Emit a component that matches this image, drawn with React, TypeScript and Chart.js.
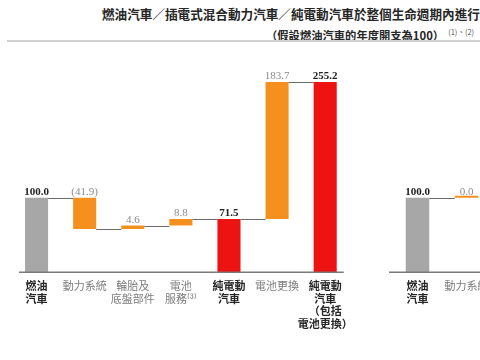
import React, { useEffect, useRef } from "react";
import { Chart, registerables } from "chart.js";

Chart.register(...registerables);

// ---------- data ----------
const leftCategories: string[][] = [
  ["燃油", "汽車"],
  ["動力系統"],
  ["輪胎及", "底盤部件"],
  ["電池", "服務⁽³⁾"],
  ["純電動", "汽車"],
  ["電池更換"],
  ["純電動", "汽車", "（包括", "電池更換）"],
];
const leftValues: number[] = [100, -41.9, 4.6, 8.8, 71.5, 183.7, 255.2];
const leftKinds: string[] = ["base", "delta", "delta", "delta", "ev", "delta", "ev"];

const rightCategories: string[][] = [["燃油", "汽車"], ["動力系統"]];
const rightValues: number[] = [100, 0];
const rightKinds: string[] = ["base", "delta"];

const titleLine1 = "燃油汽車／插電式混合動力汽車／純電動汽車於整個生命週期內進行之年度開支比較";
const titleLine2 = "（假設燃油汽車的年度開支為100）";
const titleNote = "(1)、(2)";

// ---------- styles ----------
const COLORS: Record<string, string> = { base: "#a7a7a7", delta: "#f5901f", ev: "#ee1313" };
const CJK = "'Noto Sans CJK TC', 'Noto Sans', sans-serif";
const NUM = "'Liberation Serif', 'DejaVu Serif', serif";
const BASELINE_Y = 272.3;
const Y_MAX = 300;
const PX_PER_UNIT = 0.746;

function buildRanges(values: number[], kinds: string[]) {
  let run = 0;
  const ranges: number[][] = [];
  const ends: number[] = [];
  values.forEach((v, i) => {
    if (kinds[i] === "delta") {
      ranges.push([run, run + v]);
      run += v;
    } else {
      ranges.push([0, v]);
      run = v;
    }
    ends.push(run);
  });
  return { ranges, ends };
}

function makeDecor(values: number[], kinds: string[], ranges: number[][], ends: number[], insetL: number, insetR: number) {
  return {
    id: "waterfallDecor",
    afterDatasetsDraw(chart: any) {
      const ctx = chart.ctx;
      const meta = chart.getDatasetMeta(0);
      const ys = chart.scales.y;
      const area = chart.chartArea;
      ctx.save();
      // connectors
      ctx.strokeStyle = "#6a6a6a";
      ctx.lineWidth = 1;
      for (let i = 0; i < meta.data.length - 1; i++) {
        const a = meta.data[i];
        const b = meta.data[i + 1];
        const yy = Math.round(ys.getPixelForValue(ends[i])) + 0.5;
        ctx.beginPath();
        ctx.moveTo(a.x + a.width / 2, yy);
        ctx.lineTo(b.x - b.width / 2, yy);
        ctx.stroke();
      }
      // baseline axis
      ctx.strokeStyle = "#7a7a7a";
      ctx.lineWidth = 1.5;
      ctx.beginPath();
      ctx.moveTo(area.left + insetL, area.bottom);
      ctx.lineTo(area.right - insetR, area.bottom);
      ctx.stroke();
      // value labels
      ctx.textAlign = "center";
      ctx.textBaseline = "alphabetic";
      meta.data.forEach((bar: any, i: number) => {
        const v = values[i];
        const isDelta = kinds[i] === "delta";
        const topVal = Math.max(ranges[i][0], ranges[i][1]);
        const yTop = ys.getPixelForValue(topVal);
        const txt = v < 0 ? `(${Math.abs(v).toFixed(1)})` : v.toFixed(1);
        ctx.font = `${isDelta ? "normal" : "bold"} 11px ${NUM}`;
        ctx.fillStyle = isDelta ? "#8c8c8c" : "#222";
        ctx.fillText(txt, bar.x, yTop - 3);
      });
      ctx.restore();
    },
  };
}

type WProps = {
  categories: string[][];
  values: number[];
  kinds: string[];
  width: number;
  left: number;
  padLeft: number;
  padRight: number;
  insetL: number;
  insetR: number;
};

function Waterfall(props: WProps) {
  const ref = useRef<HTMLCanvasElement | null>(null);
  useEffect(() => {
    const { categories, values, kinds, padLeft, padRight, insetL, insetR } = props;
    const { ranges, ends } = buildRanges(values, kinds);
    const chart = new Chart(ref.current as HTMLCanvasElement, {
      type: "bar",
      data: {
        labels: categories as any,
        datasets: [
          {
            data: ranges as any,
            backgroundColor: kinds.map((k) => COLORS[k]),
            borderWidth: 0,
            barPercentage: 0.48,
            categoryPercentage: 1,
            minBarLength: 2,
          },
        ],
      },
      options: {
        responsive: false,
        animation: false,
        layout: {
          padding: { left: padLeft, right: padRight, top: BASELINE_Y - Y_MAX * PX_PER_UNIT, bottom: 0 },
        },
        plugins: {
          legend: { display: false },
          tooltip: { enabled: false },
          title: { display: false },
        },
        scales: {
          x: {
            offset: true,
            grid: { display: false, drawTicks: false },
            border: { display: false },
            ticks: {
              autoSkip: false,
              maxRotation: 0,
              minRotation: 0,
              padding: 7,
              color: (c: any) => (kinds[c.index] === "delta" ? "#7c7c7c" : "#262626"),
              font: (c: any) => ({
                family: CJK,
                size: 11,
                weight: kinds[c.index] === "delta" ? "normal" : "bold",
                lineHeight: 1.16,
              }),
            },
            afterFit: (s: any) => {
              s.height = 360 - BASELINE_Y;
            },
          },
          y: { display: false, min: 0, max: Y_MAX },
        },
      },
      plugins: [makeDecor(values, kinds, ranges, ends, insetL, insetR)],
    });
    return () => chart.destroy();
  }, []);
  return (
    <canvas
      ref={ref}
      width={props.width}
      height={360}
      style={{ position: "absolute", left: props.left, top: 0, width: props.width, height: 360 }}
    />
  );
}

export default function App() {
  return (
    <div
      style={{
        position: "fixed",
        left: 0,
        top: 0,
        width: 480,
        height: 360,
        overflow: "hidden",
        background: "#fff",
      }}
    >
      <div
        style={{
          position: "absolute",
          left: 102,
          top: 5,
          whiteSpace: "nowrap",
          fontFamily: CJK,
          fontWeight: "bold",
          fontSize: 12.6,
          lineHeight: "18px",
          color: "#262626",
        }}
      >
        {titleLine1}
      </div>
      <div
        style={{
          position: "absolute",
          left: 266,
          top: 23,
          whiteSpace: "nowrap",
          fontFamily: CJK,
          fontWeight: "bold",
          fontSize: 11.3,
          lineHeight: "18px",
          color: "#262626",
        }}
      >
        {titleLine2}
        <span style={{ fontSize: 7.5, fontWeight: "normal", verticalAlign: "5px", marginLeft: 4, color: "#555" }}>
          {titleNote}
        </span>
      </div>
      <div
        style={{
          position: "absolute",
          left: 7,
          top: 40,
          width: 480,
          height: 2,
          background: "#d0d0d0",
        }}
      />
      <Waterfall
        categories={leftCategories}
        values={leftValues}
        kinds={leftKinds}
        width={360}
        left={0}
        padLeft={12.5}
        padRight={4.5}
        insetL={6.5}
        insetR={5.5}
      />
      <Waterfall
        categories={rightCategories}
        values={rightValues}
        kinds={rightKinds}
        width={140}
        left={380}
        padLeft={13}
        padRight={29}
        insetL={-4}
        insetR={-20}
      />
    </div>
  );
}
